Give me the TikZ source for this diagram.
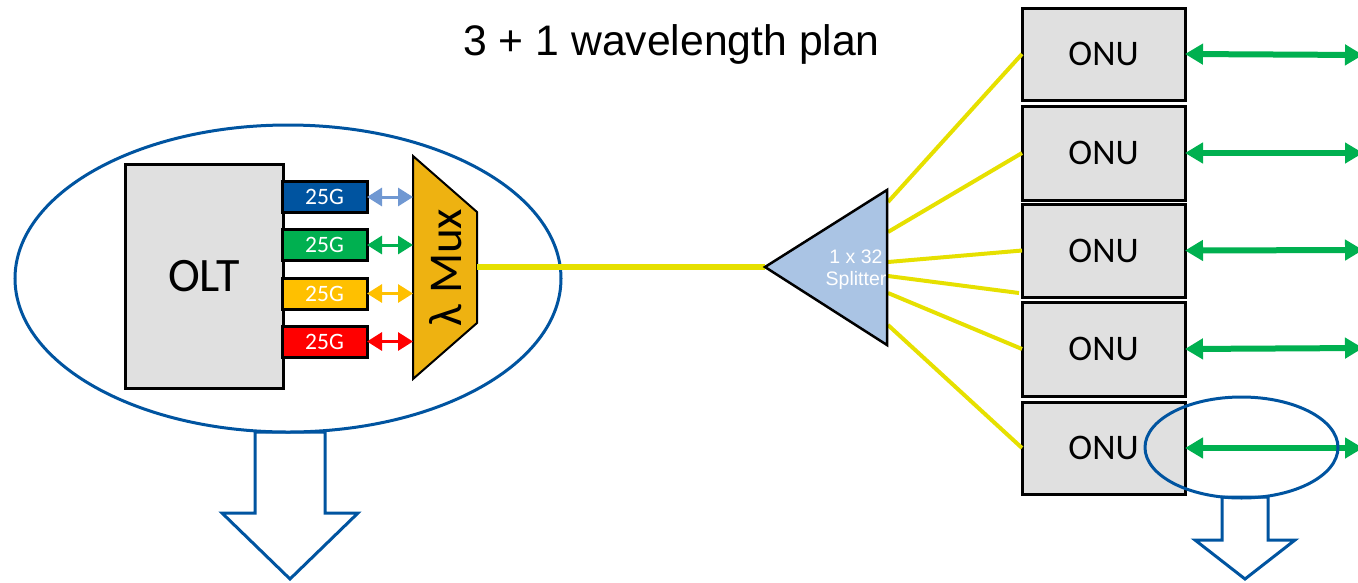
\documentclass[tikz,border=0pt]{standalone}
\usepackage{fontspec}
\setmainfont{Carlito}
\newfontfamily\arialf{Liberation Sans}
\usetikzlibrary{arrows.meta,calc}
\definecolor{eblue}{RGB}{0,84,160}
\definecolor{boxgrey}{RGB}{224,224,224}
\definecolor{muxgold}{RGB}{238,178,17}
\definecolor{fibre}{RGB}{230,224,0}
\definecolor{splitblue}{RGB}{170,196,228}
\definecolor{lblue}{RGB}{112,152,210}
\definecolor{cgreen}{RGB}{0,176,80}
\definecolor{cyellow}{RGB}{255,192,0}
\definecolor{cred}{RGB}{255,0,0}
\tikzset{
  greybox/.style={draw=black, line width=3pt, fill=boxgrey, inner sep=0pt, outer sep=0pt},
  portbox/.style={draw=black, line width=3pt, minimum width=85pt, minimum height=31pt, inner sep=0pt, outer sep=0pt, text=white, font=\fontsize{23.5}{25}\selectfont},
  portarrow/.style={line width=3pt, {Triangle[length=15pt,width=18pt]}-{Triangle[length=15pt,width=18pt]}},
  onuarrow/.style={draw=cgreen, fill=cgreen, line width=6pt, {Triangle[length=18pt,width=20pt]}-{Triangle[length=18pt,width=20pt]}},
  fibreline/.style={draw=fibre, line width=4pt},
  ring/.style={draw=eblue, line width=3pt},
  blockarrow/.style={draw=eblue, line width=3pt, fill=white, line join=miter},
  onu/.style={greybox, minimum width=163pt, font=\fontsize{36}{40}\selectfont}
}
\begin{document}
\begin{tikzpicture}[x=1pt,y=-1pt]
\useasboundingbox (0,0) rectangle (1358,582);
% title
\node[anchor=base, font=\arialf\fontsize{42.7}{48}\selectfont, inner sep=0pt] (title) at (671.5,55) {3 + 1 wavelength plan};
% down arrows
\draw[blockarrow] (255,432) -- (325,432) -- (325,513) -- (358,513) -- (290,579) -- (222,513) -- (255,513) -- cycle;
\draw[blockarrow] (1222,497) -- (1268,497) -- (1268,540) -- (1295,540) -- (1245,579) -- (1195,540) -- (1222,540) -- cycle;
% OLT ellipse
\draw[ring, fill=white] (288,278.5) ellipse [x radius=273pt, y radius=153.5pt];
% OLT
\node[greybox, minimum width=158pt, minimum height=224pt, font=\fontsize{48}{52}\selectfont] (olt) at (204,276.5) {OLT};
% port boxes
\node[portbox, fill=eblue] (p1) at (324.5,197) {25G};
\node[portbox, fill=cgreen] (p2) at (324.5,245) {25G};
\node[portbox, fill=cyellow] (p3) at (324.5,293.5) {25G};
\node[portbox, fill=cred] (p4) at (324.5,341.5) {25G};
% mux
\draw[draw=black, line width=2pt, fill=muxgold, line join=miter] (413,156) -- (477,212) -- (477,323) -- (413,379) -- cycle;
\node[rotate=90, font=\fontsize{47}{50}\selectfont, inner sep=0pt] (mux) at (446,267.5) {λ Mux};
\coordinate (m1) at (413,197);
\coordinate (m2) at (413,245);
\coordinate (m3) at (413,293.5);
\coordinate (m4) at (413,341.5);
\coordinate (mout) at (477,267);
\draw[portarrow, draw=lblue, fill=lblue] (p1.east) -- (m1);
\draw[portarrow, draw=cgreen, fill=cgreen] (p2.east) -- (m2);
\draw[portarrow, draw=cyellow, fill=cyellow] (p3.east) -- (m3);
\draw[portarrow, draw=cred, fill=cred] (p4.east) -- (m4);
% splitter
\coordinate (sin) at (765,267);
\draw[draw=fibre, line width=6.5pt] (mout) -- (sin);
\coordinate (s1) at (888,202);
\coordinate (s2) at (888,232);
\coordinate (s3) at (888,262);
\coordinate (s4) at (888,276);
\coordinate (s5) at (888,293);
\coordinate (s6) at (888,325);
% ONUs
\node[onu, minimum height=92pt] (onu1) at (1103.5,54) {ONU};
\node[onu, minimum height=94pt] (onu2) at (1103.5,153) {ONU};
\node[onu, minimum height=93pt] (onu3) at (1103.5,250.5) {ONU};
\node[onu, minimum height=94pt] (onu4) at (1103.5,349) {ONU};
\node[onu, minimum height=92pt] (onu5) at (1103.5,448) {ONU};
\coordinate (onu3b) at (1019,293);
\draw[fibreline] (s1) -- (onu1.west);
\draw[fibreline] (s2) -- (onu2.west);
\draw[fibreline] (s3) -- (onu3.west);
\draw[fibreline] (s4) -- (onu3b);
\draw[fibreline] (s5) -- (onu4.west);
\draw[fibreline] (s6) -- (onu5.west);
\draw[draw=black, line width=2.5pt, fill=splitblue, line join=miter] (sin) -- (887,190) -- (887,345) -- cycle;
\node[text=white, font=\arialf\fontsize{19.5}{22}\selectfont, align=center, inner sep=0pt] (split) at (856,270) {1 x 32\\Splitter};
% ONU arrows
\coordinate (e1) at (1363,55);
\coordinate (e2) at (1363,153);
\coordinate (e3) at (1363,250);
\coordinate (e4) at (1363,348);
\coordinate (e5) at (1363,448);
\draw[onuarrow] (onu1.east) -- (e1);
\draw[onuarrow] (onu2.east) -- (e2);
\draw[onuarrow] (onu3.east) -- (e3);
\draw[onuarrow] (onu4.east) -- (e4);
\draw[onuarrow] (onu5.east) -- (e5);
% small ellipse
\draw[ring] (1241.5,447.5) ellipse [x radius=96.5pt, y radius=50.5pt];
\end{tikzpicture}
\end{document}
